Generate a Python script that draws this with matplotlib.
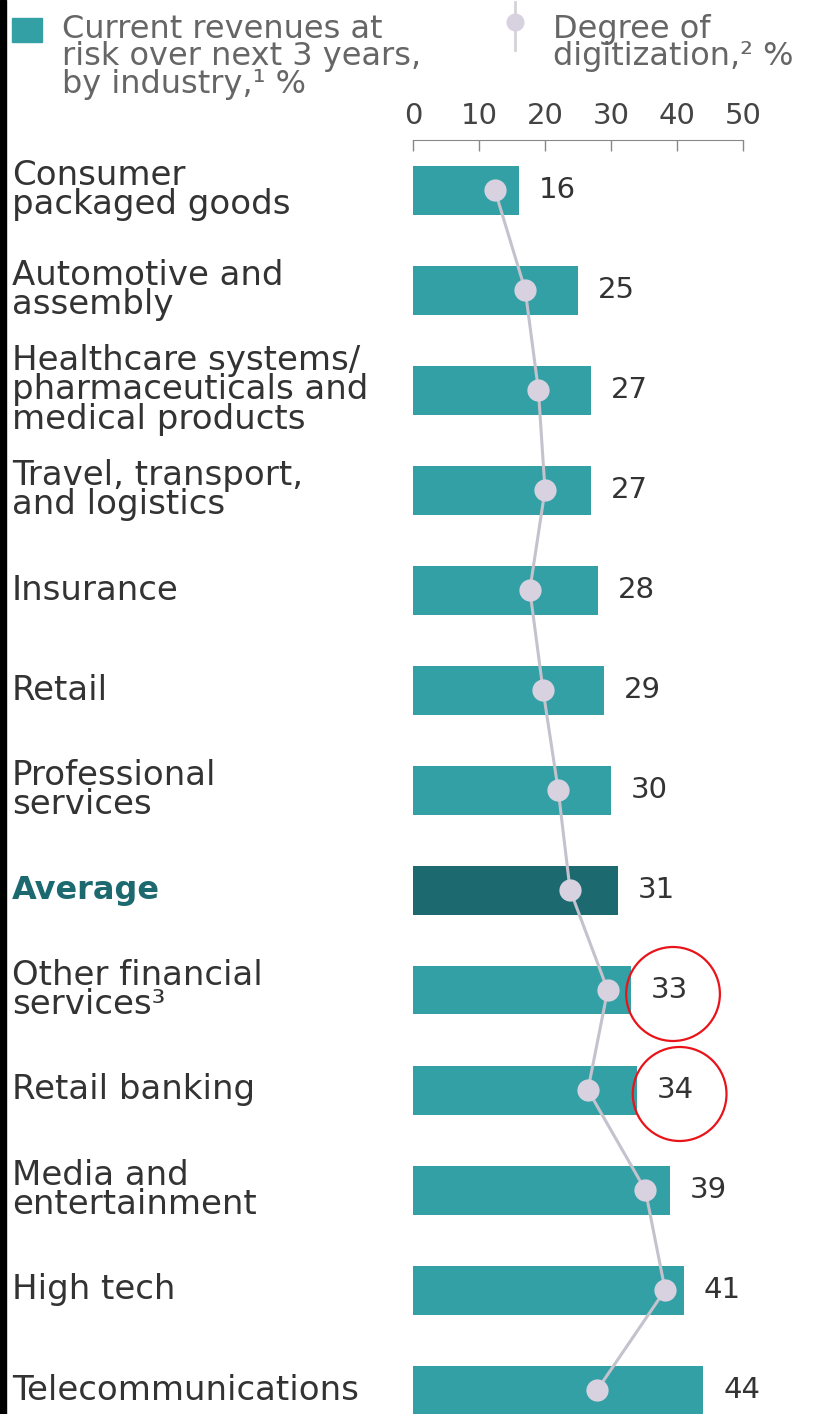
import matplotlib
matplotlib.use("Agg")
import matplotlib.pyplot as plt
from matplotlib.patches import Rectangle, Ellipse
from matplotlib.lines import Line2D
from matplotlib.transforms import blended_transform_factory

W, H = 830, 1414

industries = [
    "Consumer\npackaged goods",
    "Automotive and\nassembly",
    "Healthcare systems/\npharmaceuticals and\nmedical products",
    "Travel, transport,\nand logistics",
    "Insurance",
    "Retail",
    "Professional\nservices",
    "Average",
    "Other financial\nservices\u00b3",
    "Retail banking",
    "Media and\nentertainment",
    "High tech",
    "Telecommunications",
]
revenue_at_risk = [16, 25, 27, 27, 28, 29, 30, 31, 33, 34, 39, 41, 44]
digitization = [12.4, 17.0, 19.0, 20.0, 17.7, 19.7, 22.0, 23.8, 29.5, 26.5, 35.2, 38.2, 27.9]
ticks = [0, 10, 20, 30, 40, 50]
circled = ["Other financial\nservices\u00b3", "Retail banking"]

teal = "#33a0a5"
teal_dark = "#1c6a70"
dot_color = "#d8d2e0"
line_color = "#c4c2cc"
text_color = "#333333"

plt.rcParams["font.family"] = ["DejaVu Sans"]

fig = plt.figure(figsize=(W / 100, H / 100), dpi=100)
fig.patch.set_facecolor("white")

# axes: data 0 at x=413px, 6.6 px per unit; row i centred at y=190+100*i px
ax_left, ax_top = 413, 140
ax = fig.add_axes([ax_left / W, 0, (W - ax_left) / W, (H - ax_top) / H])
ax.set_xlim(0, (W - ax_left) / 6.6)
ax.set_ylim((H - 190) / 100, (ax_top - 190) / 100)

rows = list(range(len(industries)))
colors = [teal_dark if n == "Average" else teal for n in industries]
ax.barh(rows, revenue_at_risk, height=0.49, color=colors, zorder=2)

ax.plot(digitization, rows, color=line_color, lw=2.2, zorder=3)
ax.plot(digitization, rows, "o", ms=16, color=dot_color, mec="none", zorder=4)

for i, v in enumerate(revenue_at_risk):
    ax.text(v + 3.0, i, str(v), va="center", ha="left", fontsize=21, color=text_color)

# red annotation circles around two value labels
for name in circled:
    i = industries.index(name)
    ax.add_patch(Ellipse((revenue_at_risk[i] + 6.4, i + 0.04), 14.2, 0.94,
                         fill=False, ec="#e8141a", lw=1.6, clip_on=False, zorder=5))

# row labels
lab_tr = blended_transform_factory(fig.transFigure, ax.transData)
for i, name in enumerate(industries):
    if name == "Average":
        ax.text(12 / W, i, name, transform=lab_tr, va="center", ha="left",
                fontsize=23, fontweight="bold", color=teal_dark)
    else:
        ax.text(12 / W, i, name, transform=lab_tr, va="center", ha="left",
                fontsize=24.5, color=text_color, linespacing=0.88)

# top scale
ax.xaxis.tick_top()
ax.set_xticks(ticks)
ax.set_xticklabels([str(t) for t in ticks])
ax.tick_params(axis="x", direction="in", length=8, width=1, color="#888888",
               labelsize=21, labelcolor="#444444", pad=7)
ax.set_yticks([])
for s in ["left", "right", "bottom"]:
    ax.spines[s].set_visible(False)
ax.spines["top"].set_bounds(0, 50)
ax.spines["top"].set_color("#888888")
ax.patch.set_alpha(0)

# legend header
fig.patches.append(Rectangle((12 / W, 1 - 42 / H), 30 / W, 24 / H,
                             transform=fig.transFigure, color=teal))
fig.text(62 / W, 1 - 14 / H, "Current revenues at\nrisk over next 3 years,\nby industry,\u00b9 %",
         va="top", ha="left", fontsize=23, color="#666666", linespacing=0.85)
fig.lines.append(Line2D([515 / W, 515 / W], [1 - 2 / H, 1 - 50 / H],
                        transform=fig.transFigure, color="#d4d4d8", lw=2))
fig.lines.append(Line2D([515 / W], [1 - 22 / H], marker="o", ms=13,
                        color=dot_color, mec="none", transform=fig.transFigure))
fig.text(553 / W, 1 - 14 / H, "Degree of\ndigitization,\u00b2 %",
         va="top", ha="left", fontsize=23, color="#666666", linespacing=0.85)

# dark strip on left edge
fig.patches.append(Rectangle((0, 0), 6 / W, 1, transform=fig.transFigure, color="black"))

fig.savefig("out.png", dpi=100)
